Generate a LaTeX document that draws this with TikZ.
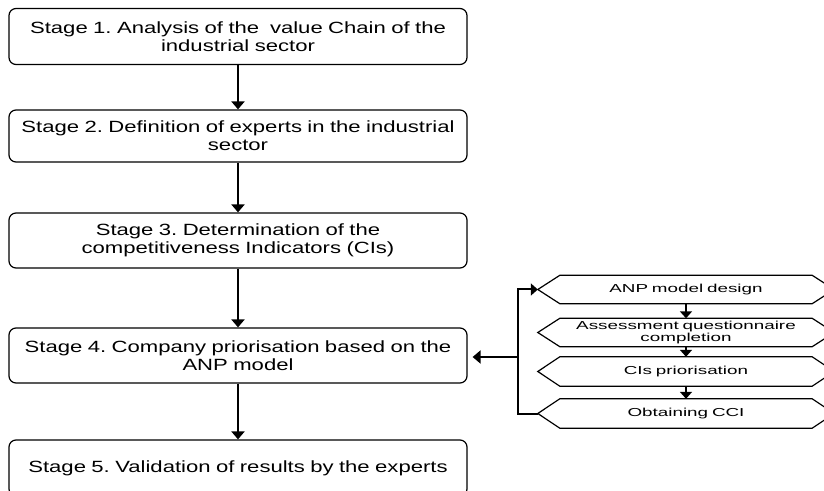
\documentclass[tikz,border=0pt]{standalone}
\usepackage{fontspec}
\setmainfont{Liberation Sans}
\newfontfamily\stagefont[FakeStretch=1.36]{Liberation Sans}
\newfontfamily\hexfont[FakeStretch=1.63]{Liberation Sans}
\usetikzlibrary{arrows.meta,calc}
\begin{document}
\frenchspacing
\begin{tikzpicture}[x=1bp,y=-1bp,
  stagebox/.style={draw=black,line width=1.2bp,rounded corners=7bp,minimum width=458bp,align=center,
    font=\stagefont\fontsize{16.3}{18}\selectfont,inner sep=0pt,text width=455bp},
  hexnode/.style={minimum width=252bp,minimum height=28bp,inner sep=0pt,align=center,
    font=\hexfont\fontsize{11.6}{12.3}\selectfont,text width=250bp},
  hexline/.style={draw=black,line width=1.2bp},
  mainarrow/.style={draw=black,line width=2bp,-{Triangle[width=13bp,length=8bp]}},
  smallarrow/.style={draw=black,line width=2bp,-{Triangle[width=12bp,length=7bp]}}
]
\useasboundingbox (0,0) rectangle (824,491);
\clip (0,0) rectangle (824,491);
\fill[white] (0,0) rectangle (824,491);
\node[stagebox,minimum height=56bp] (b1) at (238,36.5) {\raisebox{-2bp}{\shortstack{Stage 1. Analysis of the\ \ value Chain of the\\ industrial sector}}};
\node[stagebox,minimum height=52bp] (b2) at (238,136) {Stage 2. Definition of experts in the industrial\\ sector};
\node[stagebox,minimum height=55bp] (b3) at (238,240.5) {Stage 3. Determination of the\\ competitiveness Indicators (CIs)};
\node[stagebox,minimum height=55bp] (b4) at (238,355.5) {Stage 4. Company priorisation based on the\\ ANP model};
\node[stagebox,minimum height=56bp] (b5) at (238,468) {Stage 5. Validation of results by the experts};
\draw[mainarrow] (b1) -- (b2);
\draw[mainarrow] (b2) -- (b3);
\draw[mainarrow] (b3) -- (b4);
\draw[mainarrow] (b4) -- (b5);
% hexagons
\node[hexnode] (h1) at (686,289.5) {ANP model design};
\node[hexnode] (h2) at (686,332.5) {Assessment questionnaire\\ completion};
\node[hexnode,minimum height=29bp] (h3) at (686,371.5) {CIs priorisation};
\node[hexnode,minimum height=29bp] (h4) at (686,413.5) {Obtaining CCI};
\foreach \h in {h1,h2,h3,h4}{
  \coordinate (\h w) at ($(\h.west)+(-22,0)$);
  \coordinate (\h e) at ($(\h.east)+(22,0)$);
  \draw[hexline] (\h.north west) -- (\h w) -- (\h.south west) -- (\h.south east) -- (\h e) -- (\h.north east) -- cycle;
}
\draw[smallarrow] (h1.south) -- (h2.north);
\draw[smallarrow] (h2.south) -- (h3.north);
\draw[smallarrow] (h3.south) -- (h4.north);
\draw[smallarrow] (h4w) -- ++(-20,0) |- (h1w);
\coordinate (fb) at (518,357);
\draw[mainarrow,shorten >=5bp] (fb) -- (b4.east |- fb);
\end{tikzpicture}
\end{document}
